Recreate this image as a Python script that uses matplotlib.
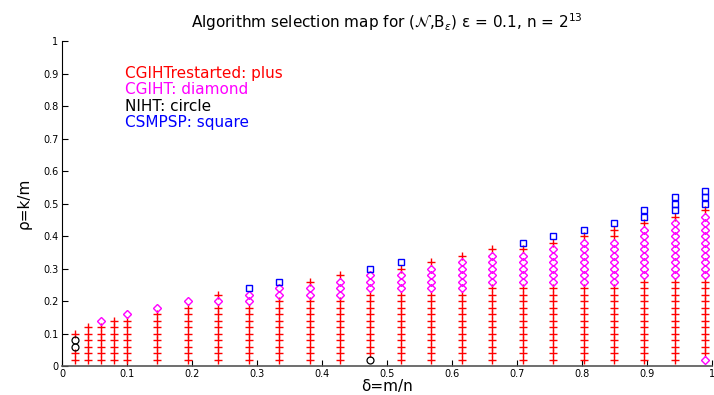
import matplotlib
matplotlib.use("Agg")
import matplotlib.pyplot as plt
import numpy as np

# delta grid (columns of the map)
deltas = [0.02, 0.04, 0.06, 0.08, 0.10, 0.1468, 0.1937, 0.2405, 0.2874, 0.3342,
          0.3811, 0.4279, 0.4747, 0.5216, 0.5684, 0.6153, 0.6621, 0.7089,
          0.7558, 0.8026, 0.8495, 0.8963, 0.9432, 0.99]

# rho grid step used in the experiments
rho_step = 0.02

# per column, fastest algorithm at rho = 0.02, 0.04, ... (bottom to top)
# P = CGIHTrestarted, D = CGIHT, O = NIHT, S = CSMPSP
columns = [
    "PPOOP",
    "PPPPPP",
    "PPPPPPD",
    "PPPPPPP",
    "PPPPPPPD",
    "PPPPPPPPD",
    "PPPPPPPPPD",
    "PPPPPPPPPDP",
    "PPPPPPPPPDDS",
    "PPPPPPPPPPDDS",
    "PPPPPPPPPPDDP",
    "PPPPPPPPPPDDDP",
    "OPPPPPPPPPPDDDS",
    "PPPPPPPPPPPDDDPS",
    "PPPPPPPPPPPDDDDP",
    "PPPPPPPPPPPDDDDDP",
    "PPPPPPPPPPPPDDDDDP",
    "PPPPPPPPPPPPDDDDDPS",
    "PPPPPPPPPPPPDDDDDDPS",
    "PPPPPPPPPPPPDDDDDDDPS",
    "PPPPPPPPPPPPDDDDDDDPPS",
    "PPPPPPPPPPPPPDDDDDDDDPSS",
    "PPPPPPPPPPPPPDDDDDDDDDPSSS",
    "DPPPPPPPPPPPPDDDDDDDDDDPSSS",
]

styles = {
    "P": dict(marker="+", color="#ff0000", ms=6.0, mew=1.0),
    "D": dict(marker="D", color="#ff00ff", ms=4.1, mew=1.0),
    "O": dict(marker="o", color="black", ms=5.0, mew=0.9),
    "S": dict(marker="s", color="#0000ff", ms=4.6, mew=1.0),
}

legend_labels = [("CGIHTrestarted: plus", "#ff0000"),
                 ("CGIHT: diamond", "#ff00ff"),
                 ("NIHT: circle", "black"),
                 ("CSMPSP: square", "#0000ff")]

fig = plt.figure(figsize=(7.14, 3.95), dpi=100)
ax = fig.add_axes([0.0868, 0.0734, 0.9102, 0.8226])

for code in "PDOS":
    xs, ys = [], []
    for d, col in zip(deltas, columns):
        for i, c in enumerate(col):
            if c == code:
                xs.append(d)
                ys.append(rho_step * (i + 1))
    st = styles[code]
    ax.plot(xs, ys, linestyle="none", marker=st["marker"], color=st["color"],
            markersize=st["ms"], markeredgewidth=st["mew"], markerfacecolor="none",
            clip_on=False)

ax.set_xlim(0, 1)
ax.set_ylim(0, 1)
ax.set_xticks(np.arange(0, 1.01, 0.1))
ax.set_yticks(np.arange(0, 1.01, 0.1))
ax.set_xticklabels(["0", "0.1", "0.2", "0.3", "0.4", "0.5", "0.6", "0.7", "0.8", "0.9", "1"])
ax.set_yticklabels(["0", "0.1", "0.2", "0.3", "0.4", "0.5", "0.6", "0.7", "0.8", "0.9", "1"])
ax.tick_params(direction="in", length=4, labelsize=7, width=0.8, pad=2.5)
ax.spines["top"].set_visible(False)
ax.spines["right"].set_visible(False)
ax.spines["left"].set_color("black")
ax.spines["bottom"].set_color("#555555")
ax.spines["bottom"].set_linewidth(1.2)

ax.set_xlabel("δ=m/n", fontsize=11, labelpad=0)
ax.set_ylabel("ρ=k/m", fontsize=11, labelpad=8)
fig.text(0.542, 0.945, r"Algorithm selection map for ($\mathcal{N}$,B$_\varepsilon$) ε = 0.1, n = 2$^{13}$",
         ha="center", va="center", fontsize=11)

for i, (txt, colr) in enumerate(legend_labels):
    ax.text(0.097, 0.90 - 0.05 * i, txt, color=colr, fontsize=11, va="center", ha="left")

fig.savefig("out.png", dpi=100)
